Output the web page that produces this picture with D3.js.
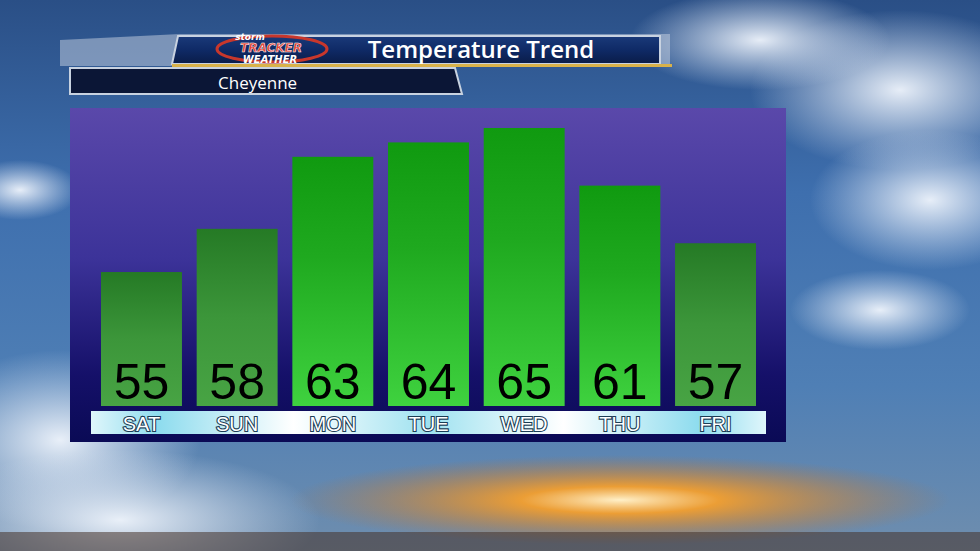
<!DOCTYPE html>
<html><head><meta charset="utf-8">
<script src="https://cdn.jsdelivr.net/npm/d3@7"></script>
<style>body{margin:0;overflow:hidden;background:#000}</style>
</head><body>
<svg id="chart" width="980" height="551"></svg>
<script>
// forecast highs, Cheyenne
var days = ['SAT','SUN','MON','TUE','WED','THU','FRI'];
var temps = [55, 58, 63, 64, 65, 61, 57];
var bright = [false, false, true, true, true, true, false];

var svg = d3.select('#chart');
var defs = svg.append('defs');

function grad(id, stops, x2, y2){
	var g = defs.append('linearGradient').attr('id', id)
		.attr('x1',0).attr('y1',0).attr('x2',x2||0).attr('y2',y2===undefined?1:y2);
	stops.forEach(function(s){ g.append('stop').attr('offset',s[0]).attr('stop-color',s[1]); });
}
grad('sky', [[0,'#2a4f86'],[0.35,'#3e6fae'],[0.7,'#4f7fb5'],[1,'#6f8eae']]);
grad('panel', [[0,'#5a48aa'],[0.45,'#3c3399'],[0.8,'#151069'],[1,'#0a0a55']]);
grad('barDim', [[0,'#257a25'],[0.5,'#3c963a'],[1,'#48a444']]);
grad('barBright', [[0,'#109a10'],[0.4,'#1fa91f'],[1,'#3fd23f']]);
grad('strip', [[0,'#dff6fb'],[0.1,'#8edcee'],[0.3,'#ffffff'],[0.5,'#9fe2f0'],[0.7,'#ffffff'],[0.9,'#8edcee'],[1,'#dff6fb']], 1, 0);
grad('banner', [[0,'#1a3a7a'],[0.5,'#0f2a66'],[1,'#0a1c48']]);
var rg = defs.append('radialGradient').attr('id','cloud');
rg.append('stop').attr('offset',0).attr('stop-color','rgba(240,245,252,0.95)');
rg.append('stop').attr('offset',1).attr('stop-color','rgba(220,230,245,0)');
var og = defs.append('radialGradient').attr('id','glow');
og.append('stop').attr('offset',0).attr('stop-color','rgba(255,240,200,1)');
og.append('stop').attr('offset',0.3).attr('stop-color','rgba(250,160,40,0.9)');
og.append('stop').attr('offset',1).attr('stop-color','rgba(200,110,30,0)');

// background
svg.append('rect').attr('width',980).attr('height',551).attr('fill','url(#sky)');
[[900,90,150,80],[760,40,130,50],[930,200,120,70],[60,440,140,90],[120,520,200,70],[20,190,60,30],[880,310,90,40]].forEach(function(c){
	svg.append('ellipse').attr('cx',c[0]).attr('cy',c[1]).attr('rx',c[2]).attr('ry',c[3]).attr('fill','url(#cloud)');
});
svg.append('ellipse').attr('cx',620).attr('cy',500).attr('rx',330).attr('ry',45).attr('fill','url(#glow)');
svg.append('rect').attr('x',0).attr('y',532).attr('width',980).attr('height',19).attr('fill','rgba(70,50,40,0.55)');

// header banner
svg.append('path').attr('d','M60,40 L180,34 L670,34 L670,66 L60,66 Z').attr('fill','rgba(200,210,225,0.5)');
svg.append('path').attr('d','M178,36 L660,36 L660,64 L172,64 Z').attr('fill','url(#banner)').attr('stroke','#c8d2e0').attr('stroke-width',2);
svg.append('rect').attr('x',172).attr('y',64).attr('width',500).attr('height',3).attr('fill','#d9b24a');
svg.append('path').attr('d','M70,68 L455,68 L462,94 L70,94 Z').attr('fill','#0b1636').attr('stroke','#c8d2e0').attr('stroke-width',2);
svg.append('ellipse').attr('cx',272).attr('cy',49).attr('rx',55).attr('ry',13).attr('fill','none').attr('stroke','#c8372c').attr('stroke-width',3);
svg.append('text').attr('x',250).attr('y',40).attr('font-family','DejaVu Sans').attr('font-style','italic').attr('font-weight','bold').attr('font-size',9).attr('fill','#fff').attr('text-anchor','middle').text('storm');
svg.append('text').attr('x',271).attr('y',52).attr('font-family','DejaVu Sans').attr('font-style','italic').attr('font-weight','bold').attr('font-size',12).attr('fill','#e03a2a').attr('stroke','#fff').attr('stroke-width',0.5).attr('text-anchor','middle').text('TRACKER');
svg.append('text').attr('x',270).attr('y',63).attr('font-family','DejaVu Sans').attr('font-style','italic').attr('font-weight','bold').attr('font-size',10).attr('fill','#fff').attr('text-anchor','middle').text('WEATHER');
svg.append('text').attr('x',481).attr('y',58).attr('font-family','Open Sans').attr('font-weight','600').attr('font-size',24).attr('fill','#fff').attr('text-anchor','middle').text('Temperature Trend');
svg.append('text').attr('x',218).attr('y',89).attr('font-family','Open Sans').attr('font-size',17).attr('fill','#fff').text('Cheyenne');

// chart panel
svg.append('rect').attr('x',70).attr('y',108).attr('width',716).attr('height',334).attr('fill','url(#panel)');

var x = d3.scaleBand().domain(days).range([101, 756]).paddingInner(0.154).paddingOuter(0);
var y = d3.scaleLinear().domain([45.7, 65]).range([406, 128]);

svg.selectAll('.bar').data(temps).enter().append('rect')
	.attr('class','bar')
	.attr('x', function(d,i){ return x(days[i]); })
	.attr('y', function(d){ return y(d); })
	.attr('width', x.bandwidth())
	.attr('height', function(d){ return 406 - y(d); })
	.attr('fill', function(d,i){ return bright[i] ? 'url(#barBright)' : 'url(#barDim)'; });

svg.selectAll('.val').data(temps).enter().append('text')
	.attr('x', function(d,i){ return x(days[i]) + x.bandwidth()/2; })
	.attr('y', 399)
	.attr('text-anchor','middle')
	.attr('font-family','Liberation Sans, Arial')
	.attr('font-size',50)
	.attr('fill','#000')
	.text(function(d){ return d; });

svg.append('rect').attr('x',91).attr('y',411).attr('width',675).attr('height',23).attr('fill','url(#strip)');
svg.selectAll('.day').data(days).enter().append('text')
	.attr('x', function(d){ return x(d) + x.bandwidth()/2; })
	.attr('y', 431)
	.attr('text-anchor','middle')
	.attr('font-family','Liberation Sans, Arial')
	.attr('font-size',20)
	.attr('fill','#fff')
	.attr('stroke','#1b3d55')
	.attr('stroke-width',2.2)
	.attr('paint-order','stroke')
	.text(function(d){ return d; });
</script>
</body></html>
